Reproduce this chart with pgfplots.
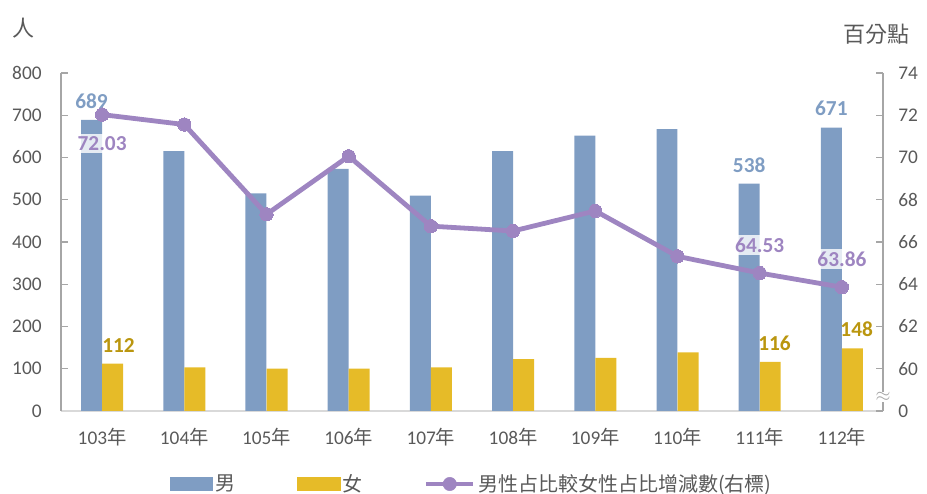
\documentclass[border=0pt]{standalone}
\usepackage{fontspec}
\setmainfont{Carlito}
\newfontfamily\cjk{Noto Sans CJK TC}
\usepackage{pgfplots}
\pgfplotsset{compat=1.18}
\definecolor{mblue}{HTML}{7F9DC3}
\definecolor{fyel}{HTML}{E6BB28}
\definecolor{lpur}{HTML}{9E85C1}
\definecolor{goldt}{HTML}{BA960F}
\definecolor{axgray}{HTML}{A6A6A6}
\definecolor{lgray}{HTML}{D9D9D9}
\definecolor{txtgray}{HTML}{595959}
\begin{document}
\begin{tikzpicture}[font=\fontsize{14.5}{17}\selectfont]
\begin{axis}[
  scale only axis, width=616.5pt, height=253.5pt,
  xmin=-0.5, xmax=9.5, ymin=0, ymax=800,
  ytick={0,100,...,800},
  xtick={0,...,9},
  xticklabels={103{\cjk 年},104{\cjk 年},105{\cjk 年},106{\cjk 年},107{\cjk 年},108{\cjk 年},109{\cjk 年},110{\cjk 年},111{\cjk 年},112{\cjk 年}},
  axis x line*=bottom, axis y line*=left,
  x axis line style={draw=lgray, line width=1pt},
  y axis line style={draw=axgray, line width=0.8pt},
  xtick style={draw=none},
  ytick style={draw=axgray, line width=0.8pt},
  major tick length=5pt,
  tick align=inside,
  ticklabel style={text=txtgray},
  yticklabel style={xshift=-11pt},
  xticklabel style={yshift=-9pt},
  /pgf/number format/assume math mode=true,
  legend style={at={(0.5,-0.216)}, anchor=center, draw=none, fill=none,
    legend columns=3, text=txtgray, font=\fontsize{15}{18}\selectfont\cjk,
    /tikz/every even column/.append style={column sep=44pt}},
  clip=false,
]
\addlegendimage{legend image code/.code={\fill[mblue] (0pt,-5pt) rectangle (32pt,5pt);}}
\addlegendentry{男}
\addlegendimage{legend image code/.code={\fill[fyel] (0pt,-5pt) rectangle (32pt,5pt);}}
\addlegendentry{女}
\addlegendimage{legend image code/.code={\draw[lpur,line width=3.6pt] (0pt,0pt) -- (35pt,0pt); \fill[lpur] (17.5pt,0pt) circle (5pt);}}
\addlegendentry{男性占比較女性占比增減數(右標)}

% male
\addplot[ybar, bar width=0.255, bar shift=-0.128, fill=mblue, draw=none, forget plot] coordinates {
(0,689) (1,615) (2,515) (3,573) (4,510) (5,615) (6,652) (7,667) (8,538) (9,671)};
% female
\addplot[ybar, bar width=0.255, bar shift=0.128, fill=fyel, draw=none, forget plot] coordinates {
(0,112) (1,103) (2,100) (3,100) (4,103) (5,123) (6,126) (7,139) (8,116) (9,148)};
% labels male
\addplot[draw=none, forget plot, nodes near coords, point meta=explicit symbolic,
  nodes near coords style={text=mblue, font=\fontsize{16}{18}\selectfont\bfseries, anchor=south, yshift=5pt}]
  coordinates {(-0.128,689)[689] (7.872,538)[538] (8.872,671)[671]};
% labels female
\addplot[draw=none, forget plot, nodes near coords, point meta=explicit symbolic,
  nodes near coords style={text=goldt, font=\fontsize{16}{18}\selectfont\bfseries, anchor=south, yshift=5pt}]
  coordinates {(0.2,112)[112] (8.18,116)[116] (9.18,148)[148]};
\node[text=txtgray, font=\fontsize{16.5}{18}\selectfont\cjk, xshift=-27.75pt, yshift=33.75pt] at (rel axis cs:0,1) {人};
\node[text=txtgray, font=\fontsize{16.5}{18}\selectfont\cjk, xshift=-5pt, yshift=29pt] at (rel axis cs:1,1) {百分點};
\coordinate (bl) at (rel axis cs:0,0);
\coordinate (tr) at (rel axis cs:1,1);
\end{axis}
\begin{axis}[
  scale only axis, width=616.5pt, height=253.5pt,
  xmin=-0.5, xmax=9.5, ymin=58, ymax=74,
  axis x line=none, axis y line*=right,
  ytick={58,60,...,74},
  yticklabels={0,60,62,64,66,68,70,72,74},
  y axis line style={draw=axgray, line width=0.8pt},
  ytick style={draw=axgray, line width=0.8pt},
  major tick length=5pt,
  tick align=inside,
  ticklabel style={text=txtgray},
  yticklabel style={xshift=8pt},
  /pgf/number format/assume math mode=true,
  clip=false,
]
\addplot[lpur, line width=3.6pt, line join=round, mark=*, mark size=5pt, mark options={fill=lpur, draw=lpur, line width=0pt}] coordinates {
(0,72.03) (1,71.56) (2,67.31) (3,70.06) (4,66.75) (5,66.52) (6,67.47) (7,65.32) (8,64.53) (9,63.86)};
\addplot[draw=none, nodes near coords, point meta=explicit symbolic,
  nodes near coords style={text=lpur, font=\fontsize{16}{18}\selectfont\bfseries, anchor=center, yshift=-21.5pt, fill=white, fill opacity=0.8, text opacity=1, inner sep=2pt}]
  coordinates {(0,72.03)[72.03]};
\addplot[draw=none, nodes near coords, point meta=explicit symbolic,
  nodes near coords style={text=lpur, font=\fontsize{16}{18}\selectfont\bfseries, anchor=center, yshift=21pt, fill=white, fill opacity=0.8, text opacity=1, inner sep=2pt}]
  coordinates {(8,64.53)[64.53] (9,63.86)[63.86]};
\node[fill=white, inner sep=0.3pt, text=axgray, font=\fontsize{14}{14}\selectfont] at (axis cs:9.5,58.65) {$\approx$};
\end{axis}
\pgfresetboundingbox
\path ([shift={(-45.75pt,-62.25pt)}]bl) rectangle ([shift={(33pt,54.75pt)}]tr);
\end{tikzpicture}
\end{document}
